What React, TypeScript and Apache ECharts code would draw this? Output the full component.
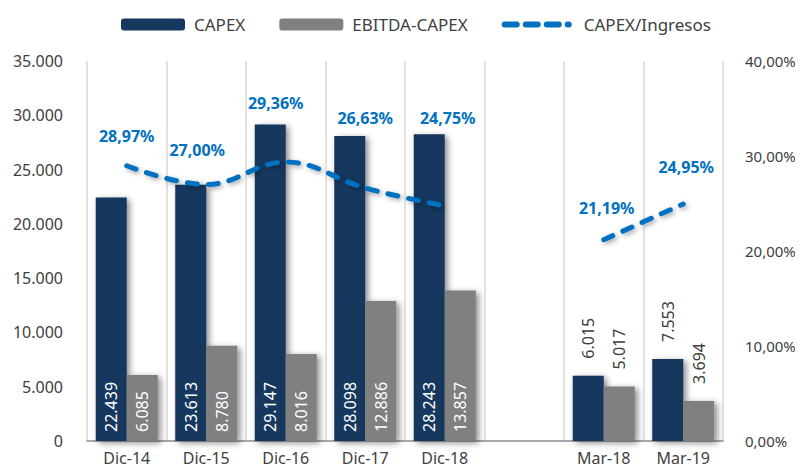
import React, { useEffect, useRef } from "react";
import * as echarts from "echarts";

const categories = ["Dic-14", "Dic-15", "Dic-16", "Dic-17", "Dic-18", "", "Mar-18", "Mar-19"];
const capex = [22439, 23613, 29147, 28098, 28243, null, 6015, 7553];
const ebitdaCapex = [6085, 8780, 8016, 12886, 13857, null, 5017, 3694];
const capexIngresos = [28.97, 27.0, 29.36, 26.63, 24.75, null, 21.19, 24.95];
const leftTicks = { min: 0, max: 35000, interval: 5000 };
const rightTicks = { min: 0, max: 40, interval: 10 };

// label placement tweaks (style only)
const lineLabelOffsets: [number, number][] = [
  [0, -17], [-9, -21], [-10, -46], [0, -57], [3, -75], [0, 0], [3, -19], [3, -24],
];
const outsideBarLabel = [false, false, false, false, false, false, true, true];

const FONT = "'Noto Sans', 'Open Sans', sans-serif";
const fmtThousands = (v: number) => String(Math.round(v)).replace(/\B(?=(\d{3})+(?!\d))/g, ".");
const fmtPct = (v: number) => v.toFixed(2).replace(".", ",") + "%";

function barData(values: (number | null)[]) {
  return values.map((v, i) => {
    if (v === null) return { value: null };
    const outside = outsideBarLabel[i];
    return {
      value: v,
      label: outside
        ? { position: "top", distance: 17, color: "#404040" }
        : { position: "insideBottom", distance: 9, color: "#ffffff" },
    };
  });
}

export default function App() {
  const ref = useRef<HTMLDivElement>(null);
  useEffect(() => {
    if (!ref.current) return;
    const chart = echarts.init(ref.current, undefined, { renderer: "svg" });
    const barShadow = {
      shadowColor: "rgba(0,0,0,0.45)",
      shadowBlur: 6,
      shadowOffsetX: 3,
      shadowOffsetY: 2,
    };
    const barLabel = {
      show: true,
      rotate: 90,
      align: "left",
      verticalAlign: "middle",
      fontSize: 16,
      fontFamily: FONT,
      formatter: (p: any) => fmtThousands(p.value),
    };
    const lineDash = [10, 11];
    chart.setOption({
      animation: false,
      textStyle: { fontFamily: FONT },
      legend: {
        left: 116,
        top: 11,
        itemWidth: 64,
        itemHeight: 12,
        itemGap: 34,
        textStyle: { fontSize: 17, color: "#404040", fontFamily: FONT, padding: [0, 0, 0, 4] },
        data: [
          "CAPEX",
          "EBITDA-CAPEX",
          {
            name: "CAPEX/Ingresos",
            itemStyle: { opacity: 0 },
            lineStyle: { width: 6, type: [12, 9], cap: "round", color: "#0070C0" },
            textStyle: { padding: [0, 0, 0, 10] },
          },
        ],
      },
      grid: { left: 87, right: 80, top: 61, bottom: 31, containLabel: false },
      xAxis: {
        type: "category",
        data: categories,
        axisTick: { show: false },
        axisLine: { lineStyle: { color: "#8c8c8c", width: 1.5 } },
        axisLabel: { fontSize: 16, color: "#404040", margin: 9, fontFamily: FONT },
        splitLine: { show: true, lineStyle: { color: "#d9d9d9", width: 1.5 } },
      },
      yAxis: [
        {
          type: "value",
          ...leftTicks,
          axisLine: { show: false },
          axisTick: { show: false },
          splitLine: { show: false },
          axisLabel: {
            fontSize: 16,
            color: "#404040",
            margin: 24,
            fontFamily: FONT,
            formatter: (v: number) => fmtThousands(v),
          },
        },
        {
          type: "value",
          ...rightTicks,
          axisLine: { show: false },
          axisTick: { show: false },
          splitLine: { show: false },
          axisLabel: {
            fontSize: 15,
            color: "#404040",
            margin: 22,
            fontFamily: FONT,
            formatter: (v: number) => fmtPct(v),
          },
        },
      ],
      series: [
        {
          name: "CAPEX",
          type: "bar",
          data: barData(capex),
          itemStyle: { color: "#17375E", ...barShadow },
          barGap: "0%",
          barCategoryGap: "22%",
          label: barLabel,
        },
        {
          name: "EBITDA-CAPEX",
          type: "bar",
          data: barData(ebitdaCapex),
          itemStyle: { color: "#808080", ...barShadow },
          barGap: "0%",
          barCategoryGap: "22%",
          label: barLabel,
        },
        {
          name: "CAPEX/Ingresos",
          type: "line",
          yAxisIndex: 1,
          smooth: 0.4,
          symbol: "circle",
          symbolSize: 0.01,
          showSymbol: true,
          connectNulls: false,
          data: capexIngresos.map((v, i) => ({
            value: v,
            label: { offset: lineLabelOffsets[i] },
          })),
          itemStyle: { color: "#0070C0" },
          lineStyle: {
            color: "#0070C0",
            width: 5,
            type: lineDash,
            cap: "round",
            shadowColor: "rgba(0,0,0,0.35)",
            shadowBlur: 5,
            shadowOffsetX: 2,
            shadowOffsetY: 2,
          },
          label: {
            show: true,
            position: "top",
            distance: 5,
            color: "#0070C0",
            fontWeight: "bold",
            fontSize: 16,
            fontFamily: FONT,
            formatter: (p: any) => (p.value == null ? "" : fmtPct(p.value)),
          },
          z: 5,
        },
      ],
    });
    return () => chart.dispose();
  }, []);
  return <div ref={ref} style={{ width: 803, height: 472, margin: -8 }} />;
}
